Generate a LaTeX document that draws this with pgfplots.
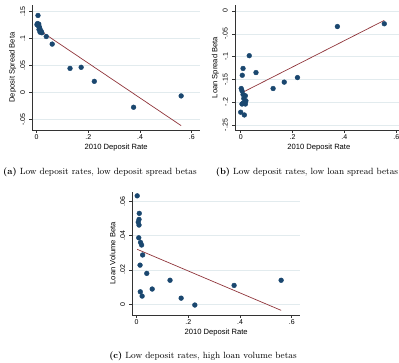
\documentclass[border=0pt]{standalone}
\usepackage{fontspec}
\usepackage{pgfplots}
\pgfplotsset{compat=1.18}
\newfontfamily\lsans{Liberation Sans}
\definecolor{stnavy}{RGB}{26,71,111}
\definecolor{stmaroon}{RGB}{144,53,59}
\definecolor{stgrid}{RGB}{226,235,238}
\pgfplotsset{
  stata/.style={
    scale only axis, width=167.7pt, anchor=south west,
    scaled ticks=false,
    axis lines*=left, axis line style={-, black!80, line width=0.6pt},
    tick align=outside, major tick length=3pt,
    tick style={black!80, line width=0.6pt},
    xtick={0,0.2,0.4,0.6}, xticklabels={0,.2,.4,.6},
    ymajorgrids, grid style={stgrid, line width=0.6pt},
    tick label style={font=\lsans\fontsize{7}{8}\selectfont},
    xticklabel style={anchor=north, inner sep=0pt},
    xticklabel shift=1.5pt,
    yticklabel style={rotate=90, anchor=south, inner sep=0pt},
    yticklabel shift=4pt,
    label style={font=\lsans\fontsize{7.6}{9}\selectfont},
    xlabel={2010 Deposit Rate},
    xlabel style={at={(axis description cs:0.5,0)}, anchor=center, yshift=-17.7pt},
    ylabel style={at={(axis description cs:-0.117,0.5)}, anchor=center},
    xmin=-0.017, xmax=0.632,
    clip=false,
  },
  dots/.style={only marks, mark=*, mark size=2.4pt, color=stnavy, mark options={draw=stnavy, fill=stnavy}},
  fit/.style={no marks, color=stmaroon, line width=0.7pt},
}
\begin{document}
\begin{tikzpicture}
\useasboundingbox (0pt,0pt) rectangle (399pt,362pt);
% Panel a
\begin{axis}[stata, at={(32.3pt,232pt)}, height=125pt,
  ymin=-0.0691, ymax=0.1624,
  ytick={-0.05,0,0.05,0.1,0.15}, yticklabels={-.05,0,.05,.1,.15},
  ylabel={Deposit Spread Beta}]
\addplot[fit] coordinates {(0.003,0.118) (0.559,-0.061)};
\addplot[dots] coordinates {
(0.005,0.143) (0.003,0.128) (0.008,0.127) (0.001,0.126) (0.006,0.124)
(0.010,0.122) (0.012,0.119) (0.009,0.117) (0.015,0.115) (0.013,0.112)
(0.018,0.113) (0.020,0.111) (0.037,0.104) (0.060,0.090) (0.129,0.045)
(0.172,0.047) (0.223,0.021) (0.375,-0.027) (0.559,-0.006)};
\end{axis}
% Panel b
\begin{axis}[stata, at={(235pt,232pt)}, height=125pt,
  xmin=-0.022, xmax=0.625,
  ymin=-0.261, ymax=0.0132,
  ytick={-0.25,-0.2,-0.15,-0.1,-0.05,0}, yticklabels={-.25,-.2,-.15,-.1,-.05,0},
  ylabel={Loan Spread Beta}]
\addplot[fit] coordinates {(0.002,-0.180) (0.554,-0.0205)};
\addplot[dots] coordinates {
(0.033,-0.098) (0.009,-0.126) (0.059,-0.135) (0.006,-0.141) (0.125,-0.170)
(0.002,-0.170) (0.005,-0.175) (0.009,-0.183) (0.018,-0.186) (0.012,-0.192)
(0.020,-0.197) (0.009,-0.202) (0.005,-0.204) (0.018,-0.204) (0.000,-0.222)
(0.014,-0.228) (0.219,-0.146) (0.168,-0.156) (0.373,-0.034) (0.554,-0.028)};
\end{axis}
% Panel c
\begin{axis}[stata, at={(132.3pt,47pt)}, height=123.3pt,
  ymin=-0.0062, ymax=0.0655,
  ytick={0,0.02,0.04,0.06}, yticklabels={0,.02,.04,.06},
  ylabel={Loan Volume Beta}]
\addplot[fit] coordinates {(0.002,0.032) (0.559,-0.0035)};
\addplot[dots] coordinates {
(0.002,0.0631) (0.010,0.0529) (0.009,0.0494) (0.006,0.0478) (0.009,0.0461)
(0.008,0.0387) (0.015,0.0360) (0.019,0.0345) (0.023,0.0287) (0.013,0.0228)
(0.039,0.0180) (0.060,0.0089) (0.014,0.0073) (0.021,0.0048) (0.129,0.0140)
(0.172,0.0036) (0.225,-0.0004) (0.377,0.0110) (0.559,0.0140)};
\end{axis}
\node[font=\fontsize{9}{10}\selectfont] at (100pt,190pt) {\textbf{(a)} Low deposit rates, low deposit spread betas};
\node[font=\fontsize{9}{10}\selectfont] at (307pt,190pt) {\textbf{(b)} Low deposit rates, low loan spread betas};
\node[font=\fontsize{9}{10}\selectfont] at (203pt,5.5pt) {\textbf{(c)} Low deposit rates, high loan volume betas};
\end{tikzpicture}
\end{document}
